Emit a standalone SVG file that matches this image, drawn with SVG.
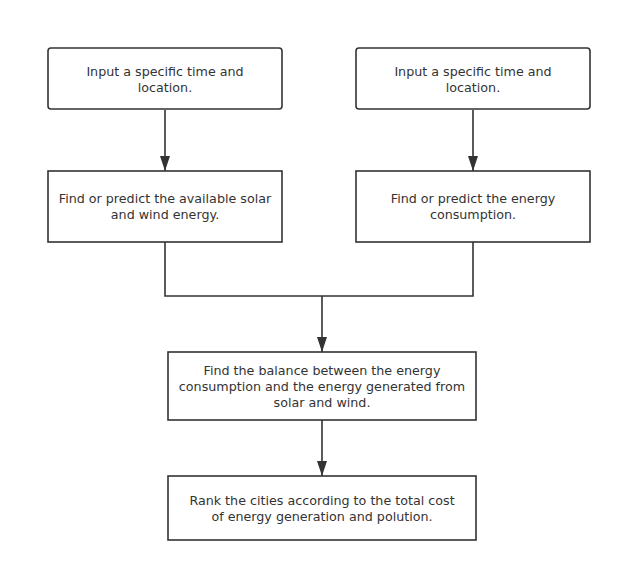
<svg xmlns="http://www.w3.org/2000/svg" width="622" height="572" viewBox="0 0 622 572">
<style>
.box{fill:#fff;stroke:#333;stroke-width:1.6}
.t{font-family:"DejaVu Sans",sans-serif;font-size:12.7px;fill:#333;text-anchor:middle}
.c{fill:none;stroke:#333;stroke-width:1.6}
</style>
<defs>
<marker id="ah" markerWidth="15" markerHeight="10" refX="15" refY="5" orient="auto" markerUnits="userSpaceOnUse" viewBox="0 0 15 10">
<path d="M0,0 L15,5 L0,10 z" fill="#333"/>
</marker>
</defs>
<rect width="622" height="572" fill="#fff"/>
<g id="connectors">
<path class="c" d="M165,110 V171" marker-end="url(#ah)"/>
<path class="c" d="M473,110 V171" marker-end="url(#ah)"/>
<path class="c" d="M165,242 V296 H473 V242"/>
<path class="c" d="M322,296 V352" marker-end="url(#ah)"/>
<path class="c" d="M322,420 V476" marker-end="url(#ah)"/>
</g>
<g id="n1">
<rect class="box" x="48" y="48" width="234" height="61" rx="3"/>
<text class="t" x="165" y="76">Input a specific time and<tspan x="165" dy="16">location.</tspan></text>
</g>
<g id="n2">
<rect class="box" x="356" y="48" width="234" height="61" rx="3"/>
<text class="t" x="473" y="76">Input a specific time and<tspan x="473" dy="16">location.</tspan></text>
</g>
<g id="n3">
<rect class="box" x="48" y="171" width="234" height="71"/>
<text class="t" x="165" y="203">Find or predict the available solar<tspan x="165" dy="16">and wind energy.</tspan></text>
</g>
<g id="n4">
<rect class="box" x="356" y="171" width="234" height="71"/>
<text class="t" x="473" y="203">Find or predict the energy<tspan x="473" dy="16">consumption.</tspan></text>
</g>
<g id="n5">
<rect class="box" x="168" y="352" width="308" height="68"/>
<text class="t" x="322" y="375">Find the balance between the energy<tspan x="322" dy="16">consumption and the energy generated from</tspan><tspan x="322" dy="16">solar and wind.</tspan></text>
</g>
<g id="n6">
<rect class="box" x="168" y="476" width="308" height="64"/>
<text class="t" x="322" y="505">Rank the cities according to the total cost<tspan x="322" dy="16">of energy generation and polution.</tspan></text>
</g>
</svg>
